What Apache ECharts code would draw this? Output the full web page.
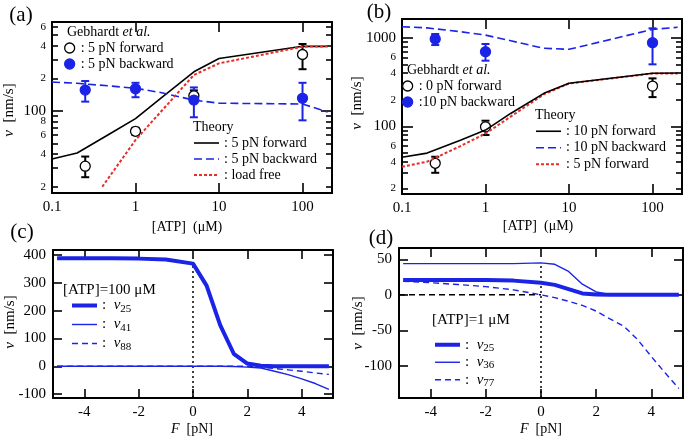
<!DOCTYPE html>
<html>
<head>
<meta charset="utf-8">
<script src="https://cdn.jsdelivr.net/npm/echarts@6.0.0/dist/echarts.min.js"></script>
<style>
html,body{margin:0;padding:0;background:#fff;}
#main{width:685px;height:438px;}
</style>
</head>
<body>
<div id="main"></div>
<script>
// ---------- (a) ATP dependence, 5 pN ----------
var atpTheory = [0.1, 0.2, 0.5, 1, 2, 5, 10, 100, 200];
var aFwd5 = [36, 41, 62, 85, 131, 230, 305, 395, 395];
var aBwd5 = [185, 180, 170, 162, 148, 126, 118, 116, 98];
var atpFree = [0.4, 1, 5, 10, 100, 200];
var aFree = [20, 54, 215, 275, 392, 395];
var atpExpA = [0.25, 1, 5, 100];
var aExpFwd = [31, 65, 138, 332];
var aExpFwdLo = [24.5, 60, 126, 243];
var aExpFwdHi = [38, 70, 155, 415];
var aExpBwd = [156, 160, 126, 131];
var aExpBwdLo = [122, 134, 87.5, 82];
var aExpBwdHi = [189, 182, 165, 182];

// ---------- (b) ATP dependence, 10 pN ----------
var bFwd10 = [45, 50, 70, 91, 140, 236, 306, 397, 400];
var bBwd10 = [1330, 1290, 1170, 1070, 925, 760, 740, 1240, 1310];
var bFwd5 = [35, 40, 60, 83, 129, 230, 305, 395, 395];
var atpExpB = [0.25, 1, 100];
var bExpFwd0 = [38.4, 99, 285];
var bExpFwd0Lo = [30, 80, 214];
var bExpFwd0Hi = [45.5, 116, 348];
var bExpBwd10 = [967, 696, 880];
var bExpBwd10Lo = [827, 551, 501];
var bExpBwd10Hi = [1101, 849, 1276];

// ---------- (c),(d) force dependence ----------
var force = [-5, -4, -3, -2, -1, 0, 0.5, 1, 1.5, 2, 2.5, 3, 3.5, 4, 4.5, 5];
var cV25 = [388, 388, 388, 387, 384, 369, 290, 148, 45, 10, 2, 0, 0, 0, 0, 0];
var cV41 = [0, 0, 0, 0, 0, 0, 0, 0, -1, -3, -6, -18, -30, -45, -62, -83];
var cV88 = [0, 0, 0, 0, 0, 0, 0, 0, 0, 0, -3, -8, -13, -18, -24, -29];
var dV25 = [21, 21, 21, 21, 20, 17, 14, 8, 2, 0.5, 0, 0, 0, 0, 0, 0];
var dV36 = [44, 44, 44, 44, 44, 45, 43, 33, 15, 4, 0.5, 0, 0, 0, 0, 0];
var dV77 = [19, 17, 14.5, 11.5, 7, 0, -4, -9, -15, -23, -34, -44, -63, -87, -110, -132];
var cGuideV = [[0, -114], [0, 369]];
var dGuideV = [[0, -145.5], [0, 45]];
var dGuideH = [[-5.15, 0], [0, 0]];

// tick values
var logXTicks = [0.1, 1, 10, 100];
var aYMinor = [20, 30, 40, 50, 60, 70, 80, 90, 200, 300, 400, 500, 600];
var aYLabels = [20, 40, 60, 80, 100, 200, 400, 600];
var bYMinor = [20, 30, 40, 50, 60, 70, 80, 90, 200, 300, 400, 500, 600, 700, 800, 900];
var bYLabels = [20, 40, 60, 100, 200, 400, 600, 1000];
var forceTicks = [-4, -2, 0, 2, 4];
var cYTicks = [-100, 0, 100, 200, 300, 400];
var dYTicks = [-100, -50, 0, 50];

var FONT = '"Liberation Serif", "Times New Roman", serif';
var BLUE = '#1b24e6';
var RED = '#e5302a';

function lg(v) { return Math.log10(v); }
function lgAll(arr) { return arr.map(lg); }
function xy(xs, ys, log) {
    var out = [];
    for (var i = 0; i < xs.length; i++) {
        out.push(log ? [lg(xs[i]), lg(ys[i])] : [xs[i], ys[i]]);
    }
    return out;
}
function bars(xs, lo, hi) {
    var out = [];
    for (var i = 0; i < xs.length; i++) out.push([lg(xs[i]), lg(lo[i]), lg(hi[i])]);
    return out;
}

// one axis; ticks point inward, labels optional
function axis(gi, pos, range, ticks, len, labels, fmt, margin) {
    var a = {
        type: 'value', gridIndex: gi, position: pos, min: range[0], max: range[1],
        axisLine: {show: true, onZero: false, lineStyle: {color: '#000', width: 2}},
        axisTick: {show: true, inside: true, length: len, customValues: ticks,
            lineStyle: {color: '#000', width: 1.6}},
        axisLabel: {show: false},
        splitLine: {show: false}
    };
    if (labels) {
        a.axisLabel = {
            show: true, customValues: labels, formatter: fmt, margin: margin,
            color: '#000', fontFamily: FONT, fontSize: 15,
            rich: {
                M: {fontFamily: FONT, fontSize: 15, color: '#000'},
                m: {fontFamily: FONT, fontSize: 11, color: '#000'}
            }
        };
    }
    return a;
}
function logXLabel(v) { return String(parseFloat(Math.pow(10, v).toPrecision(3))); }
function logYLabel(v) {
    var n = Math.round(Math.pow(10, v));
    if (n === 100 || n === 1000) return '{M|' + n + '}';
    return '{m|' + String(n).charAt(0) + '}';
}
function plain(v) { return String(v); }

var xRangeLog = [-1, 2.353];
var aYRange = [1.2435, 2.821];
var bYRange = [1.238, 3.211];
var cXRange = [-5.15, 5.15], cYRange = [-114, 418];
var dXRange = [-5.15, 5.15], dYRange = [-145.5, 66];

var xAxes = [
    axis(0, 'bottom', xRangeLog, lgAll(logXTicks), 10, lgAll(logXTicks), logXLabel, 7),
    axis(0, 'top', xRangeLog, lgAll(logXTicks), 10),
    axis(1, 'bottom', xRangeLog, lgAll(logXTicks), 10, lgAll(logXTicks), logXLabel, 7),
    axis(1, 'top', xRangeLog, lgAll(logXTicks), 10),
    axis(2, 'bottom', cXRange, forceTicks, 9, forceTicks, plain, 7),
    axis(2, 'top', cXRange, forceTicks, 9),
    axis(3, 'bottom', dXRange, forceTicks, 9, forceTicks, plain, 7),
    axis(3, 'top', dXRange, forceTicks, 9)
];
var yAxes = [
    axis(0, 'left', aYRange, [2], 11, lgAll(aYLabels), logYLabel, 6),
    axis(0, 'left', aYRange, lgAll(aYMinor), 6),
    axis(0, 'right', aYRange, [2], 11),
    axis(0, 'right', aYRange, lgAll(aYMinor), 6),
    axis(1, 'left', bYRange, [2, 3], 11, lgAll(bYLabels), logYLabel, 6),
    axis(1, 'left', bYRange, lgAll(bYMinor), 6),
    axis(1, 'right', bYRange, [2, 3], 11),
    axis(1, 'right', bYRange, lgAll(bYMinor), 6),
    axis(2, 'left', cYRange, cYTicks, 9, cYTicks, plain, 7),
    axis(2, 'right', cYRange, cYTicks, 9),
    axis(3, 'left', dYRange, dYTicks, 9, dYTicks, plain, 7),
    axis(3, 'right', dYRange, dYTicks, 9)
];
var xMain = [0, 2, 4, 6];
var yMain = [0, 4, 8, 10];

function line(name, g, data, style) {
    return {
        name: name, type: 'line', xAxisIndex: xMain[g], yAxisIndex: yMain[g],
        data: data, symbol: 'none', showSymbol: false, silent: true,
        lineStyle: style, itemStyle: {color: style.color}
    };
}
function points(name, g, data, fill, border) {
    return {
        name: name, type: 'scatter', xAxisIndex: xMain[g], yAxisIndex: yMain[g],
        data: data, symbol: 'circle', symbolSize: 10, silent: true,
        itemStyle: {color: fill, borderColor: border, borderWidth: 1.3, opacity: 1}
    };
}
function errBars(g, data, color) {
    return {
        type: 'custom', xAxisIndex: xMain[g], yAxisIndex: yMain[g], silent: true,
        data: data,
        renderItem: function (params, api) {
            var top = api.coord([api.value(0), api.value(2)]);
            var bot = api.coord([api.value(0), api.value(1)]);
            var st = {stroke: color, lineWidth: 2};
            return {type: 'group', children: [
                {type: 'line', shape: {x1: top[0], y1: top[1], x2: bot[0], y2: bot[1]}, style: st},
                {type: 'line', shape: {x1: top[0] - 4, y1: top[1], x2: top[0] + 4, y2: top[1]}, style: st},
                {type: 'line', shape: {x1: bot[0] - 4, y1: bot[1], x2: bot[0] + 4, y2: bot[1]}, style: st}
            ]};
        }
    };
}

var solidK = {color: '#000', width: 1.6};
var dashB = {color: BLUE, width: 1.6, type: [8, 4]};
var dotR = {color: RED, width: 2, type: [3, 2]};
var thickB = {color: BLUE, width: 4};
var thinB = {color: BLUE, width: 1.4};
var dashThinB = {color: BLUE, width: 1.4, type: [6, 4]};
var guideDot = {color: '#000', width: 1.5, type: [2, 3]};
var guideDash = {color: '#000', width: 1.5, type: [6, 4]};

var series = [
    // (a)
    line('a_thF', 0, xy(atpTheory, aFwd5, true), solidK),
    line('a_thB', 0, xy(atpTheory, aBwd5, true), dashB),
    line('a_free', 0, xy(atpFree, aFree, true), dotR),
    errBars(0, bars(atpExpA, aExpFwdLo, aExpFwdHi), '#000'),
    errBars(0, bars(atpExpA, aExpBwdLo, aExpBwdHi), BLUE),
    points('a_expF', 0, xy(atpExpA, aExpFwd, true), '#fff', '#000'),
    points('a_expB', 0, xy(atpExpA, aExpBwd, true), BLUE, BLUE),
    // (b)
    line('b_th5', 1, xy(atpTheory, bFwd5, true), dotR),
    line('b_thF', 1, xy(atpTheory, bFwd10, true), solidK),
    line('b_thB', 1, xy(atpTheory, bBwd10, true), dashB),
    errBars(1, bars(atpExpB, bExpFwd0Lo, bExpFwd0Hi), '#000'),
    errBars(1, bars(atpExpB, bExpBwd10Lo, bExpBwd10Hi), BLUE),
    points('b_expF', 1, xy(atpExpB, bExpFwd0, true), '#fff', '#000'),
    points('b_expB', 1, xy(atpExpB, bExpBwd10, true), BLUE, BLUE),
    // (c)
    line('c_guide', 2, cGuideV, guideDot),
    line('c_25', 2, xy(force, cV25), thickB),
    line('c_41', 2, xy(force, cV41), thinB),
    line('c_88', 2, xy(force, cV88), dashThinB),
    // (d)
    line('d_guideV', 3, dGuideV, guideDot),
    line('d_guideH', 3, dGuideH, guideDash),
    line('d_25', 3, xy(force, dV25), thickB),
    line('d_36', 3, xy(force, dV36), thinB),
    line('d_77', 3, xy(force, dV77), dashThinB)
];

var legendText = {
    a_expF: ': 5 pN forward', a_expB: ': 5 pN backward',
    a_thF: ': 5 pN forward', a_thB: ': 5 pN backward', a_free: ': load free',
    b_expF: ': 0 pN forward', b_expB: ':10 pN backward',
    b_thF: ': 10 pN forward', b_thB: ': 10 pN backward', b_th5: ': 5 pN forward',
    c_25: '{t|:  }{i|v}{s|25}', c_41: '{t|:  }{i|v}{s|41}', c_88: '{t|:  }{i|v}{s|88}',
    d_25: '{t|:  }{i|v}{s|25}', d_36: '{t|:  }{i|v}{s|36}', d_77: '{t|:  }{i|v}{s|77}'
};

// isLine: hide the marker that line legends draw in the middle of the sample
function legend(names, left, top, w, h, lh, sub, isLine) {
    return {
        data: names, left: left, top: top, orient: 'vertical', padding: 0,
        itemWidth: w, itemHeight: h, itemGap: 0, selectedMode: false,
        lineStyle: {width: 'inherit'},
        itemStyle: isLine ? {color: 'transparent', borderColor: 'transparent', borderWidth: 0, opacity: 0}
                          : {borderWidth: 'inherit'},
        formatter: function (n) { return legendText[n]; },
        textStyle: {
            fontFamily: FONT, fontSize: 14, color: '#000', lineHeight: lh,
            rich: {
                t: {fontFamily: FONT, fontSize: 15, color: '#000', lineHeight: lh},
                i: {fontFamily: FONT, fontSize: 15, fontStyle: 'italic', color: '#000', lineHeight: lh},
                s: {fontFamily: FONT, fontSize: 11, color: '#000', padding: [sub, 0, 0, 0]}
            }
        }
    };
}

function txt(x, y, text, size, align, rot) {
    return {
        type: 'text', x: x, y: y, rotation: rot || 0, silent: true,
        style: {
            text: text, fontFamily: FONT, fontSize: size, fill: '#000',
            align: align || 'center', verticalAlign: 'middle',
            textAlign: align || 'center', textVerticalAlign: 'middle',
            rich: {
                n: {fontFamily: FONT, fontSize: size, fill: '#000'},
                i: {fontFamily: FONT, fontSize: size, fontStyle: 'italic', fill: '#000'}
            }
        }
    };
}

var chart = echarts.init(document.getElementById('main'));
chart.setOption({
    animation: false,
    backgroundColor: '#fff',
    grid: [
        {left: 52, top: 22, width: 280, height: 171},
        {left: 402, top: 19, width: 280, height: 175},
        {left: 53, top: 250, width: 280, height: 148},
        {left: 399, top: 248, width: 284, height: 150}
    ],
    xAxis: xAxes,
    yAxis: yAxes,
    legend: [
        legend(['a_expF', 'a_expB'], 64, 40, 12, 10, 16, 0, false),
        legend(['a_thF', 'a_thB', 'a_free'], 193, 135, 25, 10, 16, 0, true),
        legend(['b_expF', 'b_expB'], 402, 78, 12, 10, 16, 0, false),
        legend(['b_thF', 'b_thB', 'b_th5'], 535, 123, 25, 10, 16.5, 0, true),
        legend(['c_25', 'c_41', 'c_88'], 70, 296, 25, 10, 19, 7, true),
        legend(['d_25', 'd_36', 'd_77'], 433, 336, 25, 10, 17.5, 6, true)
    ],
    graphic: [
        txt(21, 15, '(a)', 21), txt(379, 12, '(b)', 21),
        txt(22, 232, '(c)', 21), txt(381, 238, '(d)', 21),
        txt(67, 32, '{n|Gebhardt }{i|et al.}', 14, 'left'),
        txt(407, 70, '{n|Gebhardt }{i|et al.}', 14, 'left'),
        txt(193, 127, 'Theory', 14, 'left'),
        txt(535, 115, 'Theory', 14, 'left'),
        txt(63, 290, '[ATP]=100 μM', 15, 'left'),
        txt(432, 320, '[ATP]=1 μM', 15, 'left'),
        txt(187, 227, '[ATP]  (μM)', 14), txt(538, 226, '[ATP]  (μM)', 14),
        txt(192, 429, '{i|F}  [pN]', 14), txt(541, 429, '{i|F}  [pN]', 14),
        txt(9, 110, '{i|v}  [nm/s]', 15, 'center', Math.PI / 2),
        txt(357, 103, '{i|v}  [nm/s]', 15, 'center', Math.PI / 2),
        txt(10, 322, '{i|v}  [nm/s]', 15, 'center', Math.PI / 2),
        txt(358, 323, '{i|v}  [nm/s]', 15, 'center', Math.PI / 2)
    ],
    series: series
});
</script>
</body>
</html>
